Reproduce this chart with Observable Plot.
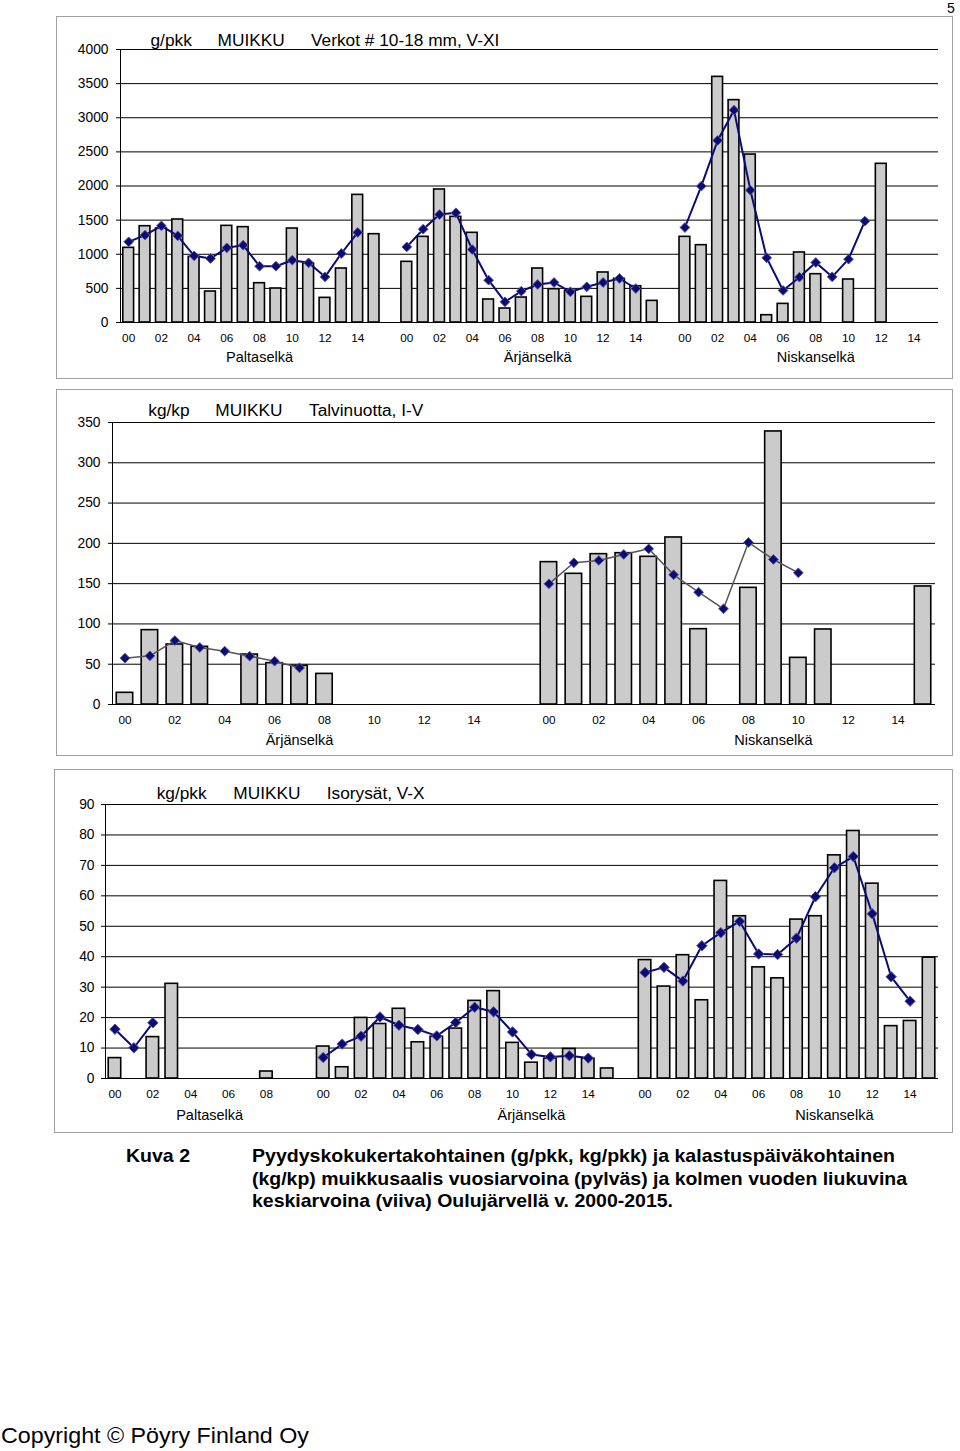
<!DOCTYPE html>
<html><head><meta charset="utf-8">
<script src="https://cdn.jsdelivr.net/npm/d3@7"></script>
<script src="https://cdn.jsdelivr.net/npm/@observablehq/plot@0.6"></script>
<style>
html,body{margin:0;padding:0;background:#fff}
body{width:960px;height:1451px;position:relative;overflow:hidden;font-family:"Liberation Sans",Arial,sans-serif}
.box{position:absolute;border:1px solid #a0a0a0;box-sizing:border-box}
.chart{position:absolute}
#overlay{position:absolute;left:0;top:0;pointer-events:none}
#overlay text{font-family:"Liberation Sans",Arial,sans-serif;fill:#000}
</style></head><body>
<div class="box" style="left:56px;top:16px;width:897px;height:363px"></div>
<div class="box" style="left:56px;top:389px;width:897px;height:367px"></div>
<div class="box" style="left:54px;top:769px;width:899px;height:364px"></div>
<div id="c1" class="chart" style="left:57px;top:17px"></div>
<div id="c2" class="chart" style="left:57px;top:390px"></div>
<div id="c3" class="chart" style="left:55px;top:770px"></div>
<svg id="overlay" width="960" height="1451">
  <text x="947" y="13" font-size="14">5</text>
  <text x="150.5" y="45.5" font-size="17.3">g/pkk</text>
  <text x="217.5" y="45.5" font-size="17.3">MUIKKU</text>
  <text x="311" y="45.5" font-size="17.3">Verkot # 10-18 mm, V-XI</text>
  <text x="148.3" y="416" font-size="17.3">kg/kp</text>
  <text x="215.3" y="416" font-size="17.3">MUIKKU</text>
  <text x="309" y="416" font-size="17.3">Talvinuotta, I-V</text>
  <text x="156.7" y="799" font-size="17.3">kg/pkk</text>
  <text x="233.3" y="799" font-size="17.3">MUIKKU</text>
  <text x="326.7" y="799" font-size="17.3">Isorysät, V-X</text>
  <text x="126" y="1162" font-size="19" font-weight="bold" textLength="64" lengthAdjust="spacingAndGlyphs">Kuva 2</text>
  <text x="252" y="1162" font-size="19" font-weight="bold" textLength="643" lengthAdjust="spacingAndGlyphs">Pyydyskokukertakohtainen (g/pkk, kg/pkk) ja kalastuspäiväkohtainen</text>
  <text x="252" y="1185" font-size="19" font-weight="bold" textLength="655" lengthAdjust="spacingAndGlyphs">(kg/kp) muikkusaalis vuosiarvoina (pylväs) ja kolmen vuoden liukuvina</text>
  <text x="252" y="1207" font-size="19" font-weight="bold" textLength="421" lengthAdjust="spacingAndGlyphs">keskiarvoina (viiva) Oulujärvellä v. 2000-2015.</text>
  <text x="1" y="1443" font-size="22" textLength="308" lengthAdjust="spacingAndGlyphs">Copyright © Pöyry Finland Oy</text>
</svg>
<script>
// ---------- data ----------
const years = ["00","01","02","03","04","05","06","07","08","09","10","11","12","13","14","15"];

// Panel 1: g/pkk, Verkot # 10-18 mm, V-XI
const p1Groups = ["Paltaselkä", "Ärjänselkä", "Niskanselkä"];
const p1Palta     = [1094,1411,1377,1509,962,454,1416,1397,576,498,1377,864,361,791,1870,1294];
const p1PaltaAvg  = [1182,1280,1416,1270,977,938,1094,1133,825,825,913,874,669,1011,1319,null];
const p1Arjan     = [889,1255,1949,1548,1314,337,205,366,791,488,463,376,733,640,532,317];
const p1ArjanAvg  = [1108,1367,1582,1607,1069,620,303,459,557,586,449,523,586,645,498,null];
const p1Niskan    = [1255,1133,3599,3258,2461,107,273,1026,708,null,630,null,2325,null,null,null];
const p1NiskanAvg = [1392,1998,2667,3111,1939,947,469,664,879,669,928,1485,null,null,null,null];
const p1Ticks = [0,500,1000,1500,2000,2500,3000,3500,4000];
const p1LabelYears = ["08","08","08"];

// Panel 2: kg/kp, Talvinuotta, I-V
const p2Groups = ["Ärjänselkä", "Niskanselkä"];
const p2Arjan     = [14.5,92.3,74.5,71.6,null,62,51.3,48,38,null,null,null,null,null,null,null];
const p2ArjanAvg  = [57.5,60.4,79.4,70.8,66.2,60,53.8,45.5,null,null,null,null,null,null,null,null];
const p2Niskan    = [176.7,162.2,186.6,187.8,183.3,207.3,93.5,null,144.8,338.9,57.9,93.1,null,null,null,146.5];
const p2NiskanAvg = [149.8,175.9,178.8,186.2,193.2,161,139.4,118.8,201.1,180,163.4,null,null,null,null,null];
const p2Ticks = [0,50,100,150,200,250,300,350];
const p2LabelYears = ["07","09"];

// Panel 3: kg/pkk, Isorysät, V-X
const p3Groups = ["Paltaselkä", "Ärjänselkä", "Niskanselkä"];
const p3Palta     = [6.7,null,13.6,31.1,null,null,null,null,2.3,null];
const p3PaltaAvg  = [16.2,10.1,18.3,null,null,null,null,null,null,null];
const p3Arjan     = [10.5,3.7,19.9,17.9,22.9,11.9,13.7,16.4,25.5,28.7,11.7,5.2,6.5,9.7,6.5,3.3];
const p3ArjanAvg  = [6.9,11.3,13.9,20.2,17.5,16.1,14,18.4,23.4,21.9,15.3,7.9,7.1,7.5,6.7,null];
const p3Niskan    = [38.9,30.2,40.5,25.7,64.9,53.3,36.5,32.9,52.2,53.3,73.3,81.3,64,17.2,18.9,39.7];
const p3NiskanAvg = [34.8,36.5,32,43.6,47.9,51.6,40.9,40.7,46.1,59.7,69.2,72.9,54.1,33.4,25.4,null];
const p3Ticks = [0,10,20,30,40,50,60,70,80,90];
const p3LabelYears = ["05","11","10"];

// ---------- helpers ----------
function buildRows(groups, bars, avgs) {
  const rows = [];
  groups.forEach((g, gi) => {
    bars[gi].forEach((v, i) => rows.push({group: g, year: years[i], key: g + "|" + years[i], value: v, avg: avgs[gi][i]}));
  });
  return rows;
}
function buildDomain(groups, bars) {
  const dom = [];
  groups.forEach((g, gi) => {
    if (gi > 0) dom.push("gap" + gi);
    bars[gi].forEach((v, i) => dom.push(g + "|" + years[i]));
  });
  return dom;
}

function panel(cfg) {
  const rows = buildRows(cfg.groups, cfg.bars, cfg.avgs);
  const domain = buildDomain(cfg.groups, cfg.bars);
  const labels = cfg.groups.map((g, i) => ({name: g, key: g + "|" + cfg.labelYears[i]}));
  return Plot.plot({
    width: cfg.width, height: cfg.height,
    marginLeft: cfg.ml, marginRight: cfg.mr, marginTop: cfg.mt, marginBottom: cfg.mb,
    style: {fontFamily: "Liberation Sans, Arial, sans-serif", color: "#000", background: "transparent", overflow: "visible"},
    x: {type: "band", domain, paddingInner: 0.34, paddingOuter: 0.17, round: false, label: null},
    y: {domain: [0, cfg.ticks[cfg.ticks.length - 1]], label: null},
    marks: [
      Plot.ruleY(cfg.ticks, {stroke: "#000", strokeWidth: 1}),
      Plot.frame({anchor: "left", stroke: "#000", strokeWidth: 1}),
      Plot.barY(rows.filter(d => d.value != null), {x: "key", y: "value", fill: "#cbcbcb", stroke: "#000", strokeWidth: 1.6}),
      Plot.line(rows.filter(d => d.avg != null), {x: "key", y: "avg", z: "group", stroke: cfg.lineColor, strokeWidth: cfg.lineWidth}),
      Plot.dot(rows.filter(d => d.avg != null), {x: "key", y: "avg", symbol: "diamond2", r: cfg.r, fill: "#0a0a78", stroke: "#5a5a90", strokeWidth: 1}),
      Plot.axisY({ticks: cfg.ticks, tickSize: 4, tickPadding: cfg.ypad, fontSize: 13.8, label: null, tickFormat: d => String(d)}),
      Plot.axisX({tickSize: 0, tickPadding: 11, fontSize: 11.8, label: null,
        tickFormat: k => { const y = k.split("|")[1]; return y && (+y % 2 === 0) ? y : ""; }}),
      Plot.text(labels, {x: "key", text: "name", frameAnchor: "bottom", dy: cfg.labelDy, fontSize: 14.5})
    ]
  });
}

document.getElementById("c1").appendChild(panel({
  groups: p1Groups, bars: [p1Palta, p1Arjan, p1Niskan], avgs: [p1PaltaAvg, p1ArjanAvg, p1NiskanAvg],
  ticks: p1Ticks, labelYears: p1LabelYears,
  width: 895, height: 361, ml: 63, mr: 14, mt: 32, mb: 56, ypad: 8, labelDy: 39,
  lineColor: "#0a0a78", lineWidth: 2, r: 4.4
}));
document.getElementById("c2").appendChild(panel({
  groups: p2Groups, bars: [p2Arjan, p2Niskan], avgs: [p2ArjanAvg, p2NiskanAvg],
  ticks: p2Ticks, labelYears: p2LabelYears,
  width: 895, height: 365, ml: 55, mr: 17, mt: 32, mb: 51, ypad: 8, labelDy: 40,
  lineColor: "#555555", lineWidth: 1.5, r: 4.4
}));
document.getElementById("c3").appendChild(panel({
  groups: p3Groups, bars: [p3Palta, p3Arjan, p3Niskan], avgs: [p3PaltaAvg, p3ArjanAvg, p3NiskanAvg],
  ticks: p3Ticks, labelYears: p3LabelYears,
  width: 897, height: 362, ml: 50, mr: 14, mt: 34, mb: 54, ypad: 7, labelDy: 41,
  lineColor: "#0a0a78", lineWidth: 2, r: 4.7
}));
</script>
</body></html>
